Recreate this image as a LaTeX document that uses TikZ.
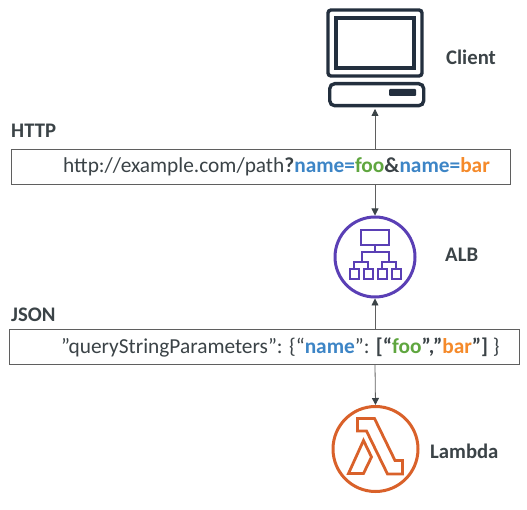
\documentclass[tikz,border=0pt]{standalone}
\usepackage{fontspec}
\setmainfont{Carlito}
\usetikzlibrary{arrows.meta}
\definecolor{inkc}{HTML}{3B4347}
\definecolor{iconc}{HTML}{232F3E}
\definecolor{albc}{HTML}{5A3FB5}
\definecolor{lamc}{HTML}{D9612A}
\definecolor{blu}{HTML}{3D85C6}
\definecolor{grn}{HTML}{5FA63F}
\definecolor{org}{HTML}{F58A2A}
\definecolor{linec}{HTML}{5F5F5F}
\tikzset{
 lbl/.style={font=\fontsize{20.7}{24}\selectfont\bfseries,text=inkc,inner sep=0pt,anchor=west},
 msg/.style={font=\fontsize{21.35}{25}\selectfont,text=inkc,inner sep=0pt,anchor=west},
 msgbox/.style={draw=linec,line width=1.2pt,fill=white,inner sep=0pt,anchor=north west},
 conn/.style={draw=linec,line width=0.8pt,-{Triangle[length=7pt,width=7pt,color=inkc]}},
 alb/.style={draw=albc,line width=3pt,fill=white},
 albicon/.style={draw=albc,line width=2.8pt},
 lam/.style={draw=lamc,line width=2.8pt,line join=miter},
 cli/.style={draw=iconc,line width=3.4pt,rounded corners=3pt},
}
\newcommand{\bl}[1]{\textbf{\textcolor{blu}{#1}}}
\newcommand{\gr}[1]{\textbf{\textcolor{grn}{#1}}}
\newcommand{\og}[1]{\textbf{\textcolor{org}{#1}}}
\begin{document}
\begin{tikzpicture}[x=1pt,y=-1pt]
\useasboundingbox (0,0) rectangle (527,510);
% client
\draw[cli] (328,10) rectangle (422,76);
\draw[cli,rounded corners=0pt] (336,18) rectangle (414,68);
\node[draw=iconc,line width=3.4pt,rounded corners=5pt,minimum width=94pt,minimum height=22pt,inner sep=0pt,anchor=north west] (base) at (328,82) {};
\fill[iconc,rounded corners=1pt] (389,89) rectangle (416,96);
\node[lbl] (clientlbl) at (446,57) {Client};
% boxes
\node[msgbox,minimum width=499pt,minimum height=35pt] (http) at (11,149) {};
\node[msgbox,minimum width=510pt,minimum height=35pt] (json) at (9,329) {};
\node[lbl] (httplbl) at (11,131) {HTTP};
\node[lbl] (jsonlbl) at (11,315) {JSON};
\node[msg] (url) at (63,167) {http://example.com/path\textbf{?}\bl{name=}\gr{foo}\textbf{\&}\bl{name=}\og{bar}};
\node[msg] (qs) at (61,347) {”queryStringParameters”: \{“\bl{name}”: \textbf{[“}\gr{foo}\textbf{”,”}\og{bar}\textbf{”]} \}};
% ALB
\node[circle,alb,minimum size=80pt,inner sep=0pt] (albn) at (375,257) {};
\draw[albicon] (361,230) rectangle (389,245);
\draw[albicon] (375,245) -- (375,252) (362,262) -- (362,252) -- (389,252) -- (389,262);
\draw[albicon] (354,269) -- (354,262) -- (368,262) -- (368,269);
\draw[albicon] (382,269) -- (382,262) -- (396,262) -- (396,269);
\draw[albicon] (350,269) rectangle (359,279) (364,269) rectangle (373,279) (378,269) rectangle (387,279) (392,269) rectangle (401,279);
\node[lbl] (alblbl) at (445,255) {ALB};
% Lambda
\node[circle,draw=lamc,line width=3pt,minimum size=85pt,inner sep=0pt] (lamn) at (375.5,449) {};
\draw[lam] (357.5,418.5) -- (374.5,418.5) -- (395,460.5) -- (402.5,460.5) -- (402.5,474) -- (387.5,474) -- (366.5,431) -- (357.5,431) -- cycle;
\draw[lam] (363.5,440.5) -- (371.5,457) -- (363.5,473.5) -- (348.5,473.5) -- cycle;
\node[lbl] (lamlbl) at (430,451) {Lambda};
% connectors
\coordinate (clientb) at (375,109);
\draw[conn] (http.north -| albn) -- (clientb);
\draw[conn] (http.south -| albn) -- (albn.north);
\draw[conn] (json.north -| albn) -- (albn.south);
\draw[conn] (json.south -| albn) -- (lamn.north);
\end{tikzpicture}
\end{document}
